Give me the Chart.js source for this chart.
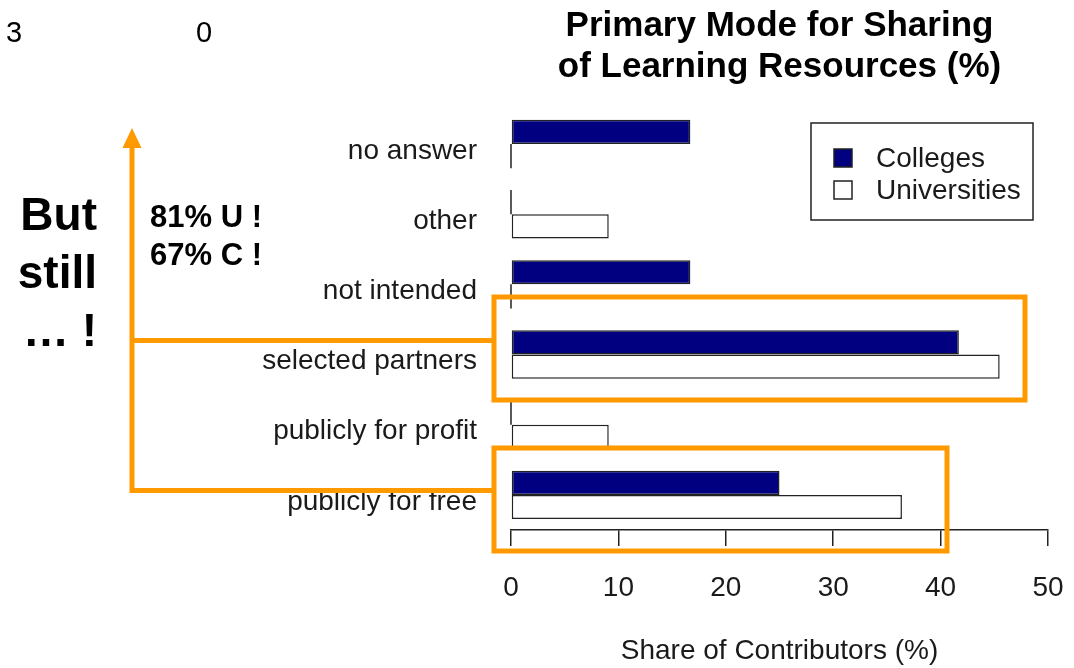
<!DOCTYPE html>
<html>
<head>
<meta charset="utf-8">
<title>Primary Mode for Sharing of Learning Resources</title>
<script src="https://cdn.jsdelivr.net/npm/chart.js@4.4.1/dist/chart.umd.min.js"></script>
<style>
  html, body { margin: 0; padding: 0; background: #fff; }
</style>
</head>
<body>
<canvas id="modeChart" width="1074" height="668"></canvas>
<script>
// values (share of contributors, %)
const categories = ['no answer', 'other', 'not intended', 'selected partners', 'publicly for profit', 'publicly for free'];
const colleges = [16.7, 0, 16.7, 41.7, 0, 25.0];
const universities = [0, 9.1, 0, 45.5, 9.1, 36.4];
const seriesNames = ['Colleges', 'Universities'];
const titleLines = ['Primary Mode for Sharing', 'of Learning Resources (%)'];
const xTitle = 'Share of Contributors (%)';

const FONT = "'Liberation Sans', Arial, sans-serif";
const ORANGE = '#ff9900';
const INK = '#1a1a1a';

const ctx = document.getElementById('modeChart');

// R-style: a zero bar still shows as a thin line on the base
const zeroBars = {
    id: 'zeroBars',
    afterDatasetsDraw(chart) {
        const c = chart.ctx;
        const x0 = chart.scales.x.getPixelForValue(0);
        c.save();
        c.strokeStyle = '#222';
        c.lineWidth = 1.5;
        chart.data.datasets.forEach(function(ds, i){
            chart.getDatasetMeta(i).data.forEach(function(bar, j){
                if(ds.data[j] === 0){
                    c.beginPath();
                    c.moveTo(x0, bar.y - bar.height / 2);
                    c.lineTo(x0, bar.y + bar.height / 2);
                    c.stroke();
                }
            });
        });
        c.restore();
    }
};

// boxed legend inside the plot
const boxLegend = {
    id: 'boxLegend',
    afterDraw(chart) {
        const c = chart.ctx;
        c.save();
        c.strokeStyle = '#222';
        c.lineWidth = 1.5;
        c.strokeRect(811, 123, 222, 97);
        c.font = '28px ' + FONT;
        c.textBaseline = 'middle';
        chart.data.datasets.forEach(function(ds, i){
            const y = 158 + i * 32;
            c.fillStyle = ds.backgroundColor;
            c.fillRect(834, y - 9, 18, 18);
            c.strokeRect(834, y - 9, 18, 18);
            c.fillStyle = INK;
            c.fillText(ds.label, 876, y + 1);
        });
        c.restore();
    }
};

// orange highlight boxes, arrow and the notes around them
const notes = {
    id: 'notes',
    afterDraw(chart) {
        const c = chart.ctx;
        c.save();
        c.strokeStyle = ORANGE;
        c.fillStyle = ORANGE;
        c.lineWidth = 5;
        c.lineJoin = 'miter';
        c.strokeRect(494, 297, 531, 103);
        c.strokeRect(494, 448, 453, 103);

        c.beginPath();
        c.moveTo(132, 146);
        c.lineTo(132, 490.5);
        c.lineTo(494, 490.5);
        c.moveTo(132, 340.5);
        c.lineTo(494, 340.5);
        c.stroke();

        c.beginPath();
        c.moveTo(132, 128);
        c.lineTo(122.5, 148);
        c.lineTo(141.5, 148);
        c.closePath();
        c.fill();

        c.fillStyle = '#000';
        c.textBaseline = 'middle';
        c.font = '29px ' + FONT;
        c.textAlign = 'left';
        c.fillText('3', 6, 34);
        c.fillText('0', 196, 34);

        c.font = 'bold 46px ' + FONT;
        c.textAlign = 'right';
        c.fillText('But', 97, 217);
        c.fillText('still', 97, 275);
        c.fillText('\u2026 !', 97, 333);

        c.font = 'bold 31px ' + FONT;
        c.textAlign = 'left';
        c.fillText('81% U !', 150, 218);
        c.fillText('67% C !', 150, 256);
        c.restore();
    }
};

new Chart(ctx, {
    type: 'bar',
    data: {
        labels: categories,
        datasets: [{
            label: seriesNames[0],
            data: colleges,
            backgroundColor: '#000080',
            borderColor: '#222',
            borderWidth: 1.5,
            borderSkipped: false
        }, {
            label: seriesNames[1],
            data: universities,
            backgroundColor: '#ffffff',
            borderColor: '#222',
            borderWidth: 1.5,
            borderSkipped: false
        }]
    },
    options: {
        indexAxis: 'y',
        responsive: false,
        animation: false,
        datasets: {
            bar: { barPercentage: 1, categoryPercentage: 0.69 }
        },
        layout: { padding: { left: 0, right: 26, top: 0, bottom: 0 } },
        plugins: {
            legend: { display: false },
            tooltip: { enabled: false },
            title: {
                display: true,
                text: titleLines,
                fullSize: false,
                color: '#000',
                font: { family: FONT, size: 35, weight: 'bold', lineHeight: 1.17 },
                padding: { top: 6, bottom: 21 }
            }
        },
        scales: {
            x: {
                min: 0,
                max: 50,
                ticks: { stepSize: 10, padding: 25, color: INK, font: { family: FONT, size: 28 } },
                grid: { drawOnChartArea: false, drawTicks: true, tickLength: 16, color: '#222', lineWidth: 1.5 },
                border: { display: true, color: '#222', width: 1.5 },
                title: { display: true, text: xTitle, color: INK, font: { family: FONT, size: 28 }, padding: { top: 0, bottom: 0 } },
                afterFit: function(scale){
                    scale.height = 138;
                    scale.paddingLeft = 0;
                    scale.paddingRight = 0;
                }
            },
            y: {
                ticks: { padding: 26, labelOffset: 7, color: INK, font: { family: FONT, size: 28 } },
                grid: { display: false },
                border: { display: false },
                afterFit: function(scale){ scale.width = 511; }
            }
        }
    },
    plugins: [zeroBars, boxLegend, notes]
});
</script>
</body>
</html>
